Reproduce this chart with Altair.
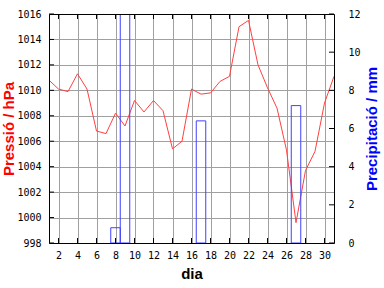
import altair as alt
import pandas as pd

days = list(range(1, 32))
pressure = [1010.8, 1010.1, 1009.9, 1011.3, 1010.1, 1006.8, 1006.6, 1008.2, 1007.2, 1009.2,
            1008.3, 1009.2, 1008.4, 1005.4, 1006.0, 1010.1, 1009.7, 1009.8, 1010.7, 1011.1,
            1015.0, 1015.5, 1012.0, 1010.2, 1008.6, 1005.3, 999.6, 1003.7, 1005.2, 1009.0, 1011.1]
rain_days = [8, 9, 17, 27]
rain_mm = [0.8, 14.0, 6.4, 7.2]
x_ticks = list(range(2, 31, 2))
p_ticks = list(range(998, 1017, 2))
r_ticks = list(range(0, 13, 2))

W, H = 285, 229
TICK = 5
LINE_RED = "#ff4040"
BAR_BLUE = "#4040ff"
GRID = "#a0a0a0"


def xscale():
    return alt.Scale(domain=[1, 31], nice=False, zero=False)


def pscale():
    return alt.Scale(domain=[998, 1016], nice=False, zero=False)


def rscale():
    return alt.Scale(domain=[0, 12], nice=False, zero=True)


def xaxis():
    return alt.Axis(values=x_ticks, grid=True, gridColor=GRID, ticks=False, tickSize=0,
                    domain=False, labelPadding=7, labelOverlap=False, title="dia",
                    titleX=W / 2, titleY=35, titleBaseline="alphabetic", titleColor="black",
                    format="d")


p_df = pd.DataFrame({"dia": days, "p": pressure})
r_df = pd.DataFrame({"dia": rain_days, "mm": rain_mm})

paxis = alt.Axis(values=p_ticks, grid=True, gridColor=GRID, ticks=False, tickSize=0,
                 domain=False, labelPadding=8, labelOverlap=False, title="Pressió / hPa",
                 titleColor="#ff0000", titleAngle=270, titleX=-36, titleY=H / 2,
                 titleBaseline="alphabetic", titleAlign="center", orient="left", format="d")
raxis = alt.Axis(values=r_ticks, grid=False, ticks=False, tickSize=0, domain=False,
                 labelPadding=14, labelAlign="left", labelOverlap=False,
                 title="Precipitació / mm", titleColor="#0000ff", titleAngle=270,
                 titleX=42, titleY=H / 2, titleBaseline="alphabetic", titleAlign="center",
                 orient="right", format="d")

line = alt.Chart(p_df).mark_line(color=LINE_RED, strokeWidth=1, clip=True).encode(
    x=alt.X("dia:Q", scale=xscale(), axis=xaxis()),
    y=alt.Y("p:Q", scale=pscale(), axis=paxis))

bars = alt.Chart(r_df).transform_calculate(
    x0="datum.dia - 0.5", x1="datum.dia + 0.5"
).mark_rect(filled=False, color=BAR_BLUE, strokeWidth=1, clip=True).encode(
    x=alt.X("x0:Q", scale=xscale(), axis=xaxis()),
    x2="x1:Q",
    y=alt.Y("mm:Q", scale=rscale(), axis=raxis),
    y2=alt.datum(0))

xt_df = pd.DataFrame({"dia": x_ticks})
bottom_ticks = alt.Chart(xt_df).mark_rule(color="black").encode(
    x=alt.X("dia:Q", scale=xscale(), axis=xaxis()), y=alt.value(H), y2=alt.value(H - TICK))
top_ticks = alt.Chart(xt_df).mark_rule(color="black").encode(
    x=alt.X("dia:Q", scale=xscale(), axis=xaxis()), y=alt.value(0), y2=alt.value(TICK))
p_tick_rules = alt.Chart(pd.DataFrame({"p": p_ticks})).mark_rule(color="black").encode(
    y=alt.Y("p:Q", scale=pscale(), axis=None), x=alt.value(0), x2=alt.value(TICK))
r_tick_rules = alt.Chart(pd.DataFrame({"mm": r_ticks})).mark_rule(color="black").encode(
    y=alt.Y("mm:Q", scale=rscale(), axis=None), x=alt.value(W), x2=alt.value(W - TICK))

frame = alt.Chart(alt.Data(values=[{}])).mark_rect(filled=False, color="black", strokeWidth=1).encode(
    x=alt.value(0.5), x2=alt.value(W + 0.5), y=alt.value(0.5), y2=alt.value(H + 0.5))

chart = alt.layer(
    line, bars, bottom_ticks, top_ticks, p_tick_rules, r_tick_rules, frame
).resolve_scale(y="independent").properties(
    width=W, height=H,
    autosize=alt.AutoSizeParams(type="none"),
    padding={"left": 49, "top": 14, "right": 50, "bottom": 45},
    background="white",
).configure_view(strokeWidth=0).configure_axis(
    labelFont="DejaVu Sans Mono", labelFontSize=10, labelColor="black",
    titleFont="Liberation Sans", titleFontSize=15, titleFontWeight="bold",
)

chart.save("out.html", embed_options={"renderer": "svg", "actions": False})
